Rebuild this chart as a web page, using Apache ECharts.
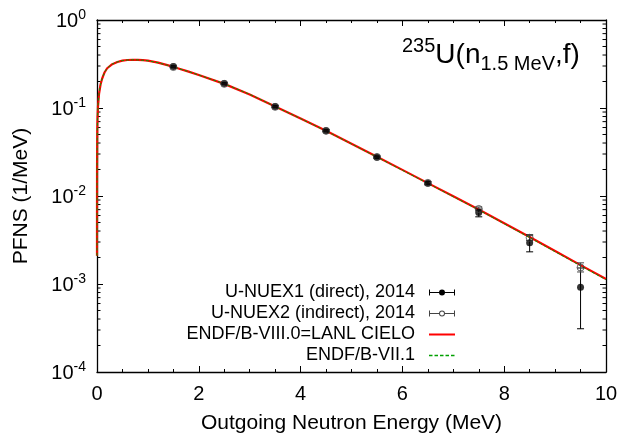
<!DOCTYPE html>
<html>
<head>
<meta charset="utf-8">
<script src="https://cdn.jsdelivr.net/npm/echarts@6/dist/echarts.min.js"></script>
<style>
  html, body { margin: 0; padding: 0; background: #fff; }
  #chart { width: 622px; height: 439px; }
</style>
</head>
<body>
<div id="chart"></div>
<script>
// evaluated spectra
const energy = [0.00001, 0.0001, 0.001, 0.005, 0.01, 0.02, 0.04, 0.07, 0.1, 0.15, 0.2, 0.3, 0.4, 0.5, 0.6, 0.7, 0.8, 0.9, 1.0, 1.2, 1.4, 1.6, 1.8, 2.0, 2.5, 3.0, 3.5, 4.0, 4.5, 5.0, 5.5, 6.0, 6.5, 7.0, 7.5, 8.0, 8.5, 9.0, 9.5, 10.0];
const cielo = [0.0021, 0.0068, 0.021, 0.054, 0.076, 0.105, 0.145, 0.185, 0.215, 0.255, 0.283, 0.315, 0.333, 0.345, 0.351, 0.353, 0.353, 0.350, 0.345, 0.328, 0.305, 0.281, 0.259, 0.237, 0.188, 0.142, 0.104, 0.0758, 0.0550, 0.0393, 0.0279, 0.0198, 0.0140, 0.00992, 0.00703, 0.00490, 0.00342, 0.00237, 0.00164, 0.00114];
const endf71 = [0.0021, 0.0068, 0.021, 0.054, 0.076, 0.105, 0.146, 0.186, 0.216, 0.256, 0.284, 0.316, 0.334, 0.346, 0.351, 0.353, 0.352, 0.349, 0.344, 0.327, 0.304, 0.281, 0.259, 0.237, 0.189, 0.143, 0.104, 0.0757, 0.0548, 0.0391, 0.0277, 0.0196, 0.0139, 0.00982, 0.00695, 0.00484, 0.00337, 0.00233, 0.00161, 0.00112];

// measured points
const expEnergy = [1.5, 2.5, 3.5, 4.5, 5.5, 6.5, 7.5, 8.5, 9.5];
const nuex1 = [0.296, 0.190, 0.104, 0.0553, 0.0276, 0.0140, 0.0065, 0.00295, 0.00092];
const nuex1Lo = [0.290, 0.186, 0.101, 0.0537, 0.0268, 0.0134, 0.0058, 0.00232, 0.00031];
const nuex1Hi = [0.302, 0.194, 0.107, 0.0569, 0.0284, 0.0146, 0.0071, 0.00362, 0.00152];
const nuex2 = [0.292, 0.188, 0.103, 0.0550, 0.0278, 0.0141, 0.00712, 0.00335, 0.00154];
const nuex2Lo = [0.287, 0.185, 0.101, 0.0540, 0.0272, 0.0137, 0.0068, 0.00312, 0.00137];
const nuex2Hi = [0.297, 0.191, 0.105, 0.0560, 0.0284, 0.0145, 0.0075, 0.00358, 0.00174];

const names = ['U-NUEX1 (direct), 2014', 'U-NUEX2 (indirect), 2014', 'ENDF/B-VIII.0=LANL CIELO', 'ENDF/B-VII.1'];

const FONT = 'Liberation Sans, Arial, sans-serif';
const GREEN = '#00a000';
const xMin = 0, xMax = 10;

// log minor ticks 2..9 in each decade
const minorTicks = [];
for (let d = -4; d < 0; d++) {
  for (let m = 2; m <= 9; m++) minorTicks.push(m * Math.pow(10, d));
}

// legend icons (26 x 6 boxes)
const anchor = 'M0,0L0.01,0ZM26,6L25.99,6Z';
const iconDirect = 'path://' + anchor + 'M0,0H1V6H0ZM25,0H26V6H25ZM0,2.5H26V3.5H0ZM10,3A3,3 0 1,1 16,3A3,3 0 1,1 10,3Z';
const iconIndirect = 'path://' + anchor + 'M0,0H1V6H0ZM25,0H26V6H25ZM0,2.5H10.2V3.5H0ZM15.8,2.5H26V3.5H15.8Z' +
  'M10,3A3,3 0 1,1 16,3A3,3 0 1,1 10,3ZM11,3A2,2 0 1,0 15,3A2,2 0 1,0 11,3Z';
const iconRed = 'path://' + anchor + 'M0,1.9H26V4.1H0Z';
const iconGreen = 'path://' + anchor + 'M0,2.3H3.5V3.7H0ZM5.5,2.3H9V3.7H5.5ZM11,2.3H14.5V3.7H11ZM16.5,2.3H20V3.7H16.5ZM22,2.3H25.5V3.7H22Z';

function errorBars(params, api) {
  const x = api.value(0);
  const hi = api.coord([x, api.value(2)]);
  const lo = api.coord([x, api.value(1)]);
  const c = 3.5;
  const st = { stroke: api.visual('color'), lineWidth: 1 };
  return {
    type: 'group',
    children: [
      { type: 'line', shape: { x1: hi[0], y1: hi[1], x2: lo[0], y2: lo[1] }, style: st },
      { type: 'line', shape: { x1: hi[0] - c, y1: hi[1], x2: hi[0] + c, y2: hi[1] }, style: st },
      { type: 'line', shape: { x1: lo[0] - c, y1: lo[1], x2: lo[0] + c, y2: lo[1] }, style: st }
    ]
  };
}

function minorTickMarks(params, api) {
  const v = api.value(1);
  const l = api.coord([xMin, v]);
  const r = api.coord([xMax, v]);
  const st = { stroke: '#000', lineWidth: 1 };
  return {
    type: 'group',
    children: [
      { type: 'line', shape: { x1: l[0], y1: l[1], x2: l[0] + 3.5, y2: l[1] }, style: st },
      { type: 'line', shape: { x1: r[0], y1: r[1], x2: r[0] - 3.5, y2: r[1] }, style: st }
    ]
  };
}

const axisLineStyle = { color: '#000', width: 1.3 };

const xAxisBase = {
  type: 'value', min: xMin, max: xMax, interval: 2,
  axisLine: { show: true, onZero: false, lineStyle: axisLineStyle },
  axisTick: { show: true, inside: true, length: 6, lineStyle: { color: '#000' } },
  minorTick: { show: true, splitNumber: 4, length: 3, lineStyle: { color: '#000' } },
  splitLine: { show: false }
};

const yAxisBase = {
  type: 'log', logBase: 10, min: 0.0001, max: 1,
  axisLine: { show: true, onZero: false, lineStyle: axisLineStyle },
  axisTick: { show: true, inside: true, length: 6, lineStyle: { color: '#000' } },
  splitLine: { show: false }
};

const titleRich = (size, align) => ({
  fontSize: size, fontFamily: FONT, fontWeight: 'normal', color: '#000', verticalAlign: align, lineHeight: 38
});

const chart = echarts.init(document.getElementById('chart'));
chart.setOption({
  animation: false,
  backgroundColor: '#fff',
  textStyle: { fontFamily: FONT },
  grid: { left: 97, right: 16, top: 20, bottom: 65 },
  title: {
    text: '{s|235}{m|U(n}{b|1.5 MeV}{m|,f)}',
    left: 402, top: 36, padding: 0,
    textStyle: {
      fontWeight: 'normal',
      rich: { s: titleRich(20, 'top'), m: titleRich(28, 'middle'), b: titleRich(20, 'bottom') }
    }
  },
  legend: {
    orient: 'vertical', right: 167, top: 282, padding: 0,
    align: 'right', itemWidth: 26, itemHeight: 6, itemGap: 0,
    selectedMode: false,
    textStyle: { fontSize: 18, lineHeight: 21, color: '#000', fontFamily: FONT, padding: [0, 9, 0, 0] },
    data: [
      { name: names[0], icon: iconDirect, itemStyle: { color: '#000', borderWidth: 0 } },
      { name: names[1], icon: iconIndirect, itemStyle: { color: '#444', borderWidth: 0 } },
      { name: names[2], icon: iconRed, itemStyle: { color: '#f00', borderWidth: 0 } },
      { name: names[3], icon: iconGreen, itemStyle: { color: GREEN, borderWidth: 0 } }
    ]
  },
  xAxis: [
    Object.assign({}, xAxisBase, {
      position: 'bottom',
      name: 'Outgoing Neutron Energy (MeV)', nameLocation: 'middle', nameGap: 41,
      nameTextStyle: { fontSize: 21, color: '#000', fontFamily: FONT },
      axisLabel: { fontSize: 20, color: '#000', margin: 12, fontFamily: FONT }
    }),
    Object.assign({}, xAxisBase, { position: 'top', axisLabel: { show: false } })
  ],
  yAxis: [
    Object.assign({}, yAxisBase, {
      position: 'left',
      name: 'PFNS (1/MeV)', nameLocation: 'middle', nameGap: 65, nameRotate: 90,
      nameTextStyle: { fontSize: 21, color: '#000', fontFamily: FONT },
      axisLabel: {
        margin: 11,
        formatter: v => '{b|10}{s|' + Math.round(Math.log10(v)) + '}',
        rich: {
          b: { fontSize: 20, color: '#000', fontFamily: FONT, verticalAlign: 'bottom', lineHeight: 23 },
          s: { fontSize: 14, color: '#000', fontFamily: FONT, verticalAlign: 'top', lineHeight: 23 }
        }
      }
    }),
    Object.assign({}, yAxisBase, { position: 'right', axisLabel: { show: false } })
  ],
  series: [
    {
      type: 'custom', silent: true, clip: false,
      renderItem: minorTickMarks,
      data: minorTicks.map(v => [xMin, v]),
      encode: { x: 0, y: 1 }
    },
    {
      name: names[2], type: 'line', symbol: 'none', showSymbol: false, silent: true,
      data: energy.map((e, i) => [e, cielo[i]]),
      lineStyle: { color: '#ff0000', width: 2.2 }, itemStyle: { color: '#ff0000' }, z: 2
    },
    {
      name: names[3], type: 'line', symbol: 'none', showSymbol: false, silent: true,
      data: energy.map((e, i) => [e, endf71[i]]),
      lineStyle: { color: GREEN, width: 1, type: [3, 2] }, itemStyle: { color: GREEN }, z: 3
    },
    {
      name: names[0], type: 'custom', silent: true, renderItem: errorBars,
      itemStyle: { color: '#000' },
      data: expEnergy.map((e, i) => [e, nuex1Lo[i], nuex1Hi[i]]),
      encode: { x: 0, y: [1, 2] }, z: 4
    },
    {
      name: names[1], type: 'custom', silent: true, renderItem: errorBars,
      itemStyle: { color: '#444' },
      data: expEnergy.map((e, i) => [e, nuex2Lo[i], nuex2Hi[i]]),
      encode: { x: 0, y: [1, 2] }, z: 4
    },
    {
      name: names[0], type: 'scatter', symbol: 'circle', symbolSize: 7, silent: true,
      itemStyle: { color: '#000' },
      data: expEnergy.map((e, i) => [e, nuex1[i]]), z: 5
    },
    {
      name: names[1], type: 'scatter', symbol: 'circle', symbolSize: 7, silent: true,
      itemStyle: { color: 'rgba(255,255,255,0)', borderColor: '#444', borderWidth: 1 },
      data: expEnergy.map((e, i) => [e, nuex2[i]]), z: 5
    }
  ]
});
</script>
</body>
</html>
